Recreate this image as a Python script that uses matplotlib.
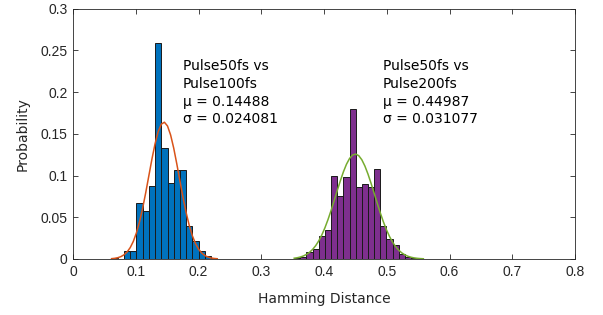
import numpy as np
import matplotlib
matplotlib.use("Agg")
import matplotlib.pyplot as plt

# Histogram 1: Pulse50fs vs Pulse100fs
edges1_start = 0.0615
binw1 = 0.0099
prob1 = [0.001, 0.0, 0.009, 0.009, 0.067, 0.058, 0.088, 0.259, 0.133,
         0.091, 0.107, 0.107, 0.039, 0.021, 0.010, 0.003, 0.001]
mu1, sigma1 = 0.14488, 0.024081

# Histogram 2: Pulse50fs vs Pulse200fs
edges2_start = 0.3525
binw2 = 0.0098
prob2 = [0.001, 0.002, 0.008, 0.0116, 0.028, 0.035, 0.099, 0.076, 0.098, 0.180,
         0.086, 0.090, 0.086, 0.108, 0.039, 0.024, 0.017, 0.006, 0.002, 0.001, 0.001]
mu2, sigma2 = 0.44987, 0.031077

label1 = "Pulse50fs vs\nPulse100fs\n\u03bc = 0.14488\n\u03c3 = 0.024081"
label2 = "Pulse50fs vs\nPulse200fs\n\u03bc = 0.44987\n\u03c3 = 0.031077"

xticks = [0, 0.1, 0.2, 0.3, 0.4, 0.5, 0.6, 0.7, 0.8]
xticklabels = ["0", "0.1", "0.2", "0.3", "0.4", "0.5", "0.6", "0.7", "0.8"]
yticks = [0, 0.05, 0.1, 0.15, 0.2, 0.25, 0.3]
yticklabels = ["0", "0.05", "0.1", "0.15", "0.2", "0.25", "0.3"]

fig = plt.figure(figsize=(6.03, 3.15), dpi=100)
ax = fig.add_axes([73/603, 1-259/315, (575-73)/603, (259-8.7)/315])

def draw(start, w, probs, mu, sigma, fc, lc):
    n = len(probs)
    edges = start + w*np.arange(n+1)
    ax.bar(edges[:-1], probs, width=w, align='edge', color=fc,
           edgecolor='#1a1a1a', linewidth=0.7, zorder=2)
    x = np.linspace(edges[0], edges[-1], 2*n+1)
    y = w/(sigma*np.sqrt(2*np.pi))*np.exp(-0.5*((x-mu)/sigma)**2)
    ax.plot(x, y, color=lc, linewidth=1.1, zorder=3)

draw(edges1_start, binw1, prob1, mu1, sigma1, '#0072BD', '#D95319')
draw(edges2_start, binw2, prob2, mu2, sigma2, '#7E2F8E', '#77AC30')

ax.set_xlim(0, 0.8)
ax.set_ylim(0, 0.3)
tickfont = dict(family='Liberation Sans', size=10)
ax.set_xticks(xticks)
ax.set_xticklabels(xticklabels, **tickfont)
ax.set_yticks(yticks)
ax.set_yticklabels(yticklabels, **tickfont)
ax.tick_params(direction='in', length=3.5, width=0.6, colors='#262626',
               top=True, right=True, labelcolor='#262626', pad=4)
for s in ax.spines.values():
    s.set_color('#262626')
    s.set_linewidth(0.6)

ax.set_xlabel("Hamming Distance", fontsize=10, color='#262626', labelpad=10)
ax.set_ylabel("Probability", fontsize=10, color='#262626', labelpad=8)

ax.text(0.1753, 0.2395, label1, fontsize=10, va='top', ha='left',
        linespacing=1.34, color='black')
ax.text(0.494, 0.2395, label2, fontsize=10, va='top', ha='left',
        linespacing=1.34, color='black')

fig.savefig("out.png", dpi=100)
